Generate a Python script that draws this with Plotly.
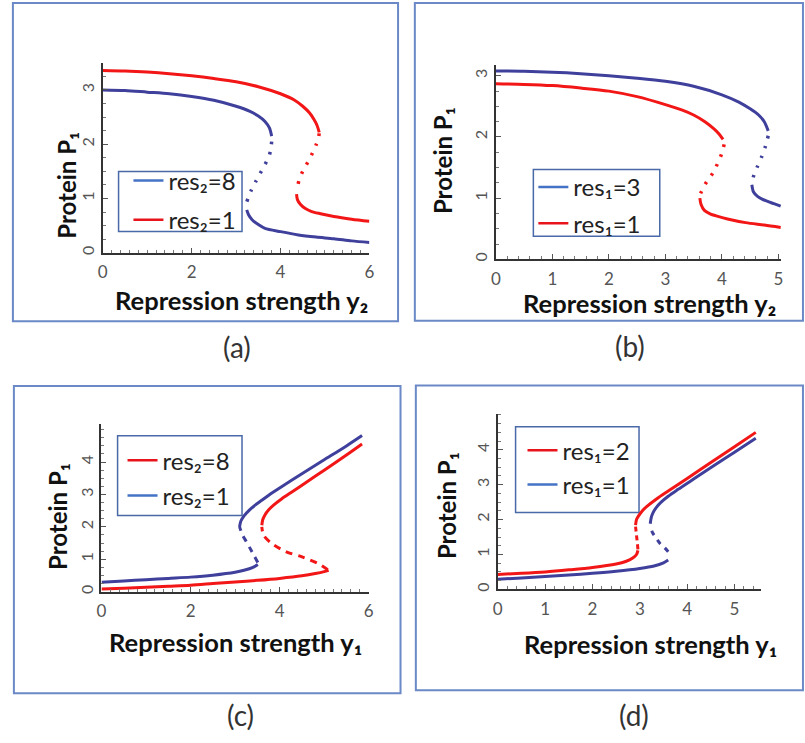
import plotly.graph_objects as go

W, H = 805, 743

# ---------------- data ----------------
# Panel (a): P1 vs y2
a_res8_up_x = [0, 0.5, 1, 1.5, 2, 2.5, 3, 3.3, 3.5, 3.65, 3.75, 3.8]
a_res8_up_y = [3.0, 2.99, 2.96, 2.93, 2.88, 2.81, 2.70, 2.61, 2.52, 2.42, 2.30, 2.15]
a_res8_mid_x = [3.8, 3.78, 3.74, 3.64, 3.54, 3.44, 3.34, 3.24]
a_res8_mid_y = [2.05, 1.91, 1.78, 1.61, 1.46, 1.31, 1.15, 0.94]
a_res8_lo_x = [3.24, 3.28, 3.36, 3.5, 3.65, 4.0, 4.4, 4.8, 5.2, 5.6, 6.0]
a_res8_lo_y = [0.79, 0.70, 0.61, 0.52, 0.45, 0.39, 0.33, 0.29, 0.26, 0.22, 0.19]

a_res1_up_x = [0, 0.5, 1, 1.5, 2, 2.5, 3, 3.5, 4, 4.3, 4.5, 4.65, 4.75, 4.82, 4.87]
a_res1_up_y = [3.36, 3.35, 3.33, 3.30, 3.26, 3.21, 3.15, 3.06, 2.93, 2.82, 2.70, 2.58, 2.46, 2.35, 2.22]
a_res1_mid_x = [4.87, 4.85, 4.80, 4.72, 4.62, 4.51, 4.42, 4.37]
a_res1_mid_y = [2.20, 2.10, 1.99, 1.84, 1.68, 1.52, 1.35, 1.15]
a_res1_lo_x = [4.36, 4.38, 4.45, 4.55, 4.7, 4.9, 5.2, 5.6, 6.0]
a_res1_lo_y = [1.08, 0.98, 0.89, 0.82, 0.76, 0.72, 0.67, 0.62, 0.58]

# Panel (b): P1 vs y2
b_res3_up_x = [0, 0.5, 1, 1.5, 2, 2.5, 3, 3.5, 4, 4.3, 4.5, 4.65, 4.75, 4.82]
b_res3_up_y = [3.08, 3.075, 3.06, 3.035, 3.0, 2.96, 2.91, 2.83, 2.69, 2.57, 2.46, 2.36, 2.25, 2.10]
b_res3_mid_x = [4.82, 4.77, 4.71, 4.63, 4.57, 4.54]
b_res3_mid_y = [2.02, 1.85, 1.69, 1.52, 1.39, 1.28]
b_res3_lo_x = [4.53, 4.56, 4.63, 4.72, 4.8, 4.92, 5.04]
b_res3_lo_y = [1.22, 1.10, 1.03, 0.98, 0.95, 0.91, 0.87]

b_res1_up_x = [0, 0.5, 1, 1.5, 2, 2.5, 3, 3.3, 3.5, 3.7, 3.85, 3.95, 4.02]
b_res1_up_y = [2.87, 2.86, 2.84, 2.80, 2.75, 2.66, 2.53, 2.44, 2.36, 2.25, 2.14, 2.05, 1.96]
b_res1_mid_x = [4.04, 4.0, 3.94, 3.84, 3.74, 3.67, 3.61]
b_res1_mid_y = [1.88, 1.74, 1.60, 1.41, 1.28, 1.17, 1.05]
b_res1_lo_x = [3.61, 3.63, 3.69, 3.8, 3.9, 4.1, 4.42, 4.75, 5.04]
b_res1_lo_y = [1.0, 0.9, 0.80, 0.74, 0.71, 0.66, 0.60, 0.56, 0.52]

# Panel (c): P1 vs y1
c_res8_lo_x = [0, 0.5, 1, 1.5, 2, 2.5, 3, 3.5, 4, 4.5, 4.8, 5.0, 5.1]
c_res8_lo_y = [0.08, 0.11, 0.14, 0.17, 0.2, 0.25, 0.30, 0.35, 0.41, 0.49, 0.56, 0.62, 0.66]
c_res8_mid_x = [5.08, 4.86, 4.49, 4.15, 3.82, 3.64, 3.6]
c_res8_mid_y = [0.68, 0.87, 1.08, 1.23, 1.49, 1.74, 2.0]
c_res8_up_x = [3.6, 3.62, 3.67, 3.75, 3.87, 4.05, 4.3, 4.6, 5.0, 5.5, 5.85]
c_res8_up_y = [2.05, 2.22, 2.37, 2.52, 2.68, 2.87, 3.1, 3.38, 3.75, 4.22, 4.56]

c_res1_lo_x = [0, 0.5, 1, 1.5, 2, 2.5, 3, 3.2, 3.4, 3.51]
c_res1_lo_y = [0.29, 0.33, 0.37, 0.41, 0.45, 0.51, 0.60, 0.66, 0.75, 0.84]
c_res1_mid_x = [3.51, 3.43, 3.34, 3.25, 3.17, 3.13, 3.1]
c_res1_mid_y = [0.90, 1.10, 1.33, 1.55, 1.74, 1.88, 2.0]
c_res1_up_x = [3.1, 3.13, 3.2, 3.32, 3.45, 3.6, 3.8, 4.0, 4.5, 5.0, 5.5, 5.85]
c_res1_up_y = [2.0, 2.18, 2.34, 2.52, 2.67, 2.82, 3.02, 3.2, 3.64, 4.07, 4.5, 4.82]

# Panel (d): P1 vs y1
d_res2_lo_x = [0, 0.5, 1, 1.5, 2, 2.5, 2.7, 2.85, 2.93, 2.96]
d_res2_lo_y = [0.43, 0.46, 0.50, 0.56, 0.63, 0.73, 0.80, 0.90, 1.0, 1.12]
d_res2_mid_x = [2.96, 2.95, 2.93, 2.91]
d_res2_mid_y = [1.15, 1.30, 1.55, 1.80]
d_res2_up_x = [2.91, 2.93, 2.98, 3.05, 3.15, 3.36, 3.6, 4.0, 4.5, 5.0, 5.45]
d_res2_up_y = [1.84, 2.0, 2.12, 2.25, 2.38, 2.6, 2.82, 3.18, 3.64, 4.09, 4.5]

d_res1_lo_x = [0, 0.5, 1, 1.5, 2, 2.5, 3, 3.3, 3.5, 3.6]
d_res1_lo_y = [0.29, 0.33, 0.37, 0.41, 0.46, 0.52, 0.60, 0.67, 0.76, 0.84]
d_res1_mid_x = [3.6, 3.52, 3.43, 3.34, 3.26, 3.22]
d_res1_mid_y = [1.08, 1.2, 1.31, 1.48, 1.65, 1.84]
d_res1_up_x = [3.22, 3.24, 3.28, 3.35, 3.45, 3.6, 3.8, 4.2, 4.6, 5.0, 5.45]
d_res1_up_y = [1.88, 2.05, 2.2, 2.35, 2.5, 2.67, 2.86, 3.22, 3.58, 3.93, 4.33]

x_ticks_a = [0, 2, 4, 6]
x_ticks_b = [0, 1, 2, 3, 4, 5]
x_ticks_c = [0, 2, 4, 6]
x_ticks_d = [0, 1, 2, 3, 4, 5]
y_ticks_ab = [0, 1, 2, 3]
y_ticks_cd = [0, 1, 2, 3, 4]

legend_a = ["res\u2082=8", "res\u2082=1"]
legend_b = ["res\u2081=3", "res\u2081=1"]
legend_c = ["res\u2082=8", "res\u2082=1"]
legend_d = ["res\u2081=2", "res\u2081=1"]
xtitle_y2 = "<b>Repression strength y\u2082</b>"
xtitle_y1 = "<b>Repression strength y\u2081</b>"
ytitle = "<b>Protein P\u2081</b>"
panel_labels = ["(a)", "(b)", "(c)", "(d)"]

# ---------------- styling ----------------
RED = "#f21616"
BLUE = "#3f3f9c"
LEG_RED = "#e8141c"
LEG_BLUE = "#4472c4"
BORDER = "#6a89c6"
FONT = "Lato, DejaVu Sans"


def px(x):
    return x / W


def py(y):
    return 1 - y / H


fig = go.Figure()


def curve(x, y, color, ax, dash="solid", width=3.0):
    fig.add_trace(go.Scatter(
        x=x, y=y, mode="lines", line=dict(color=color, width=width, dash=dash, shape="spline", smoothing=0.8),
        xaxis=ax[0], yaxis=ax[1], showlegend=False, hoverinfo="skip"))


def leg(name, color, ax, legname, grp):
    fig.add_trace(go.Scatter(
        x=[None], y=[None], mode="lines", line=dict(color=color, width=2.5),
        name=name, xaxis=ax[0], yaxis=ax[1], legend=legname, legendgroup=grp, showlegend=True))


DOT = "2.5px,8px"
A = ("x", "y")
B = ("x2", "y2")
C = ("x3", "y3")
D = ("x4", "y4")

# (a)
curve(a_res8_up_x, a_res8_up_y, BLUE, A)
curve(a_res8_mid_x, a_res8_mid_y, BLUE, A, DOT, 3.5)
curve(a_res8_lo_x, a_res8_lo_y, BLUE, A)
curve(a_res1_up_x, a_res1_up_y, RED, A)
curve(a_res1_mid_x, a_res1_mid_y, RED, A, DOT, 3.5)
curve(a_res1_lo_x, a_res1_lo_y, RED, A)
leg(legend_a[0], LEG_BLUE, A, "legend", "a1")
leg(legend_a[1], LEG_RED, A, "legend", "a2")

# (b)
curve(b_res3_up_x, b_res3_up_y, BLUE, B)
curve(b_res3_mid_x, b_res3_mid_y, BLUE, B, DOT, 3.5)
curve(b_res3_lo_x, b_res3_lo_y, BLUE, B)
curve(b_res1_up_x, b_res1_up_y, RED, B)
curve(b_res1_mid_x, b_res1_mid_y, RED, B, DOT, 3.5)
curve(b_res1_lo_x, b_res1_lo_y, RED, B)
leg(legend_b[0], LEG_BLUE, B, "legend2", "b1")
leg(legend_b[1], LEG_RED, B, "legend2", "b2")

# (c)
curve(c_res8_lo_x, c_res8_lo_y, RED, C)
curve(c_res8_mid_x, c_res8_mid_y, RED, C, "7px,6px")
curve(c_res8_up_x, c_res8_up_y, RED, C)
curve(c_res1_lo_x, c_res1_lo_y, BLUE, C)
curve(c_res1_mid_x, c_res1_mid_y, BLUE, C, "6px,6px")
curve(c_res1_up_x, c_res1_up_y, BLUE, C)
leg(legend_c[0], LEG_RED, C, "legend3", "c1")
leg(legend_c[1], LEG_BLUE, C, "legend3", "c2")

# (d)
curve(d_res2_lo_x, d_res2_lo_y, RED, D)
curve(d_res2_mid_x, d_res2_mid_y, RED, D, "5px,4px")
curve(d_res2_up_x, d_res2_up_y, RED, D)
curve(d_res1_lo_x, d_res1_lo_y, BLUE, D)
curve(d_res1_mid_x, d_res1_mid_y, BLUE, D, "5px,6px")
curve(d_res1_up_x, d_res1_up_y, BLUE, D)
leg(legend_d[0], LEG_RED, D, "legend4", "d1")
leg(legend_d[1], LEG_BLUE, D, "legend4", "d2")


def xaxis(dom, rng, ticks, anchor):
    return dict(domain=[px(dom[0]), px(dom[1])], range=rng, tickvals=ticks, anchor=anchor,
                showline=True, linecolor="#333333", linewidth=2, ticks="inside", ticklen=5,
                tickcolor="#555555", tickwidth=1, showgrid=False, zeroline=False,
                tickfont=dict(family=FONT, size=17, color="#555555"), ticklabelstandoff=3,
                minor=dict(dtick=0.2, ticks="inside", ticklen=3, tickcolor="#777777", showgrid=False),
                fixedrange=True)


def yaxis(dom, rng, ticks, anchor):
    return dict(domain=[py(dom[0]), py(dom[1])], range=rng, tickvals=ticks, anchor=anchor,
                showline=True, linecolor="#333333", linewidth=2, ticks="inside", ticklen=5,
                tickcolor="#555555", tickwidth=1, showgrid=False, zeroline=False, tickangle=-90,
                tickfont=dict(family=FONT, size=16, color="#555555"),
                minor=dict(dtick=0.25, ticks="inside", ticklen=3, tickcolor="#777777", showgrid=False),
                fixedrange=True)


def legend_cfg(x_left, y_mid, gap):
    return dict(x=px(x_left), y=py(y_mid), xanchor="left", yanchor="middle",
                bgcolor="rgba(0,0,0,0)", borderwidth=0, tracegroupgap=gap,
                font=dict(family=FONT, size=24, color="#222222"), orientation="v")


shapes = []
# panel borders
for (x0, y0, x1, y1) in [(8, 3, 398, 322), (415, 3, 808, 321.5), (9, 387, 400.5, 695), (416, 386.5, 808, 692)]:
    shapes.append(dict(type="rect", xref="paper", yref="paper", x0=px(x0), x1=px(x1),
                       y0=py(y1), y1=py(y0), line=dict(color=BORDER, width=2), layer="below"))
# legend boxes
for (x0, y0, x1, y1) in [(115, 172, 240, 232), (535, 170, 663, 237), (114, 437, 240, 517), (517, 428, 642, 514)]:
    shapes.append(dict(type="rect", xref="paper", yref="paper", x0=px(x0), x1=px(x1),
                       y0=py(y1), y1=py(y0), line=dict(color="#4a69a8", width=1.5),
                       fillcolor="white", layer="below"))

annotations = []
for (txt, cx, cy) in [(xtitle_y2, 239, 301), (xtitle_y2, 653, 304), (xtitle_y1, 233, 644), (xtitle_y1, 654, 646)]:
    annotations.append(dict(text=txt, x=px(cx), y=py(cy), xref="paper", yref="paper", showarrow=False,
                            xanchor="center", yanchor="middle",
                            font=dict(family=FONT, size=25.5, color="#111111")))
for (cx, cy) in [(62, 186), (443, 161), (53, 518), (447, 507)]:
    annotations.append(dict(text=ytitle, x=px(cx), y=py(cy), xref="paper", yref="paper", showarrow=False,
                            xanchor="center", yanchor="middle", textangle=-90,
                            font=dict(family=FONT, size=24, color="#111111")))
for (txt, cx, cy) in zip(panel_labels, [235, 633, 238, 637], [348, 347, 717, 717]):
    annotations.append(dict(text=txt, x=px(cx), y=py(cy), xref="paper", yref="paper", showarrow=False,
                            xanchor="center", yanchor="middle",
                            font=dict(family=FONT, size=28, color="#333333")))

fig.update_layout(
    width=W, height=H, margin=dict(l=0, r=0, t=0, b=0),
    paper_bgcolor="white", plot_bgcolor="rgba(0,0,0,0)",
    xaxis=xaxis((99, 369), [0, 6], x_ticks_a, "y"),
    yaxis=yaxis((253.5, 63), [0, 3.5], y_ticks_ab, "x"),
    xaxis2=xaxis((497, 786), [0, 5.05], x_ticks_b, "y2"),
    yaxis2=yaxis((260, 65), [0, 3.18], y_ticks_ab, "x2"),
    xaxis3=xaxis((97.7, 368.3), [0, 6], x_ticks_c, "y3"),
    yaxis3=yaxis((593.3, 425), [0, 5.18], y_ticks_cd, "x3"),
    xaxis4=xaxis((499, 766), [0, 5.57], x_ticks_d, "y4"),
    yaxis4=yaxis((591, 415), [0, 5.03], y_ticks_cd, "x4"),
    legend=legend_cfg(125, 201, 5),
    legend2=legend_cfg(535, 206, 2),
    legend3=legend_cfg(119, 479.5, 1),
    legend4=legend_cfg(524, 469, 0),
    shapes=shapes, annotations=annotations,
    showlegend=True,
)

fig.write_html("out.html")
